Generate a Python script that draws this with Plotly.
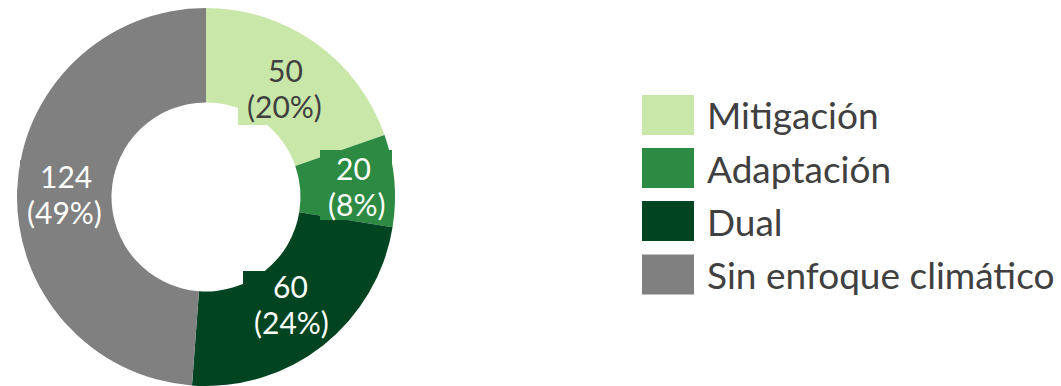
import plotly.graph_objects as go

# Data
categories = ["Mitigación", "Adaptación", "Dual", "Sin enfoque climático"]
values = [50, 20, 60, 124]
colors = ["#C9E7A8", "#2D8A43", "#004421", "#808080"]
label_colors = ["#404040", "#FFFFFF", "#FFFFFF", "#FFFFFF"]

W, H = 1061, 386
FONT = "Lato"
TEXT_GRAY = "#404040"


def px(x):
    return x / W


def py(y):
    return 1 - y / H


total = sum(values)
pcts = [round(v / total * 100) for v in values]

fig = go.Figure(
    go.Pie(
        labels=categories,
        values=values,
        hole=0.5,
        sort=False,
        direction="clockwise",
        rotation=0,
        marker=dict(colors=colors, line=dict(width=0)),
        textinfo="none",
        hoverinfo="label+value+percent",
        showlegend=False,
        domain=dict(x=[px(17), px(395)], y=[0, py(8)]),
    )
)

# Label placement per slice: box (x0, y0, x1, y1), centre x of each line,
# and the y where the value line ends and the percentage line starts
label_boxes = [
    (238, 55, 330, 125),
    (320, 150, 392, 220),
    (243, 271, 330, 332),
    (20, 160, 108, 230),
]
label_x = [(285, 284), (353, 356), (290, 291), (66, 64)]
label_mid_y = [88, 186, 304, 194]

shapes = []
annotations = []
for i, v in enumerate(values):
    x0, y0, x1, y1 = label_boxes[i]
    shapes.append(dict(type="rect", xref="paper", yref="paper",
                       x0=px(x0), x1=px(x1), y0=py(y1), y1=py(y0),
                       fillcolor=colors[i], line=dict(width=0), layer="above"))
    xa, xb = label_x[i]
    ym = label_mid_y[i]
    for ax, anchor, txt in ((xa, "bottom", f"{v}"), (xb, "top", f"({pcts[i]}%)")):
        annotations.append(dict(x=px(ax), y=py(ym), xref="paper", yref="paper",
                                text=txt, showarrow=False, xanchor="center",
                                yanchor=anchor, borderpad=0, borderwidth=0,
                                font=dict(family=FONT, size=30, color=label_colors[i])))

# Legend: coloured swatches with category names
legend_rows = [115, 168, 221, 274.5]
for i, name in enumerate(categories):
    cy = legend_rows[i]
    shapes.append(dict(type="rect", xref="paper", yref="paper",
                       x0=px(642), x1=px(694), y0=py(cy + 20), y1=py(cy - 20),
                       fillcolor=colors[i], line=dict(width=0), layer="above"))
    annotations.append(dict(x=px(705), y=py(cy), xref="paper", yref="paper",
                            text=name, showarrow=False, xanchor="left",
                            yanchor="middle",
                            font=dict(family=FONT, size=37, color=TEXT_GRAY)))

fig.update_layout(
    width=W,
    height=H,
    margin=dict(l=0, r=0, t=0, b=0),
    paper_bgcolor="white",
    plot_bgcolor="white",
    shapes=shapes,
    annotations=annotations,
    font=dict(family=FONT, color=TEXT_GRAY),
)

fig.write_html("out.html")
